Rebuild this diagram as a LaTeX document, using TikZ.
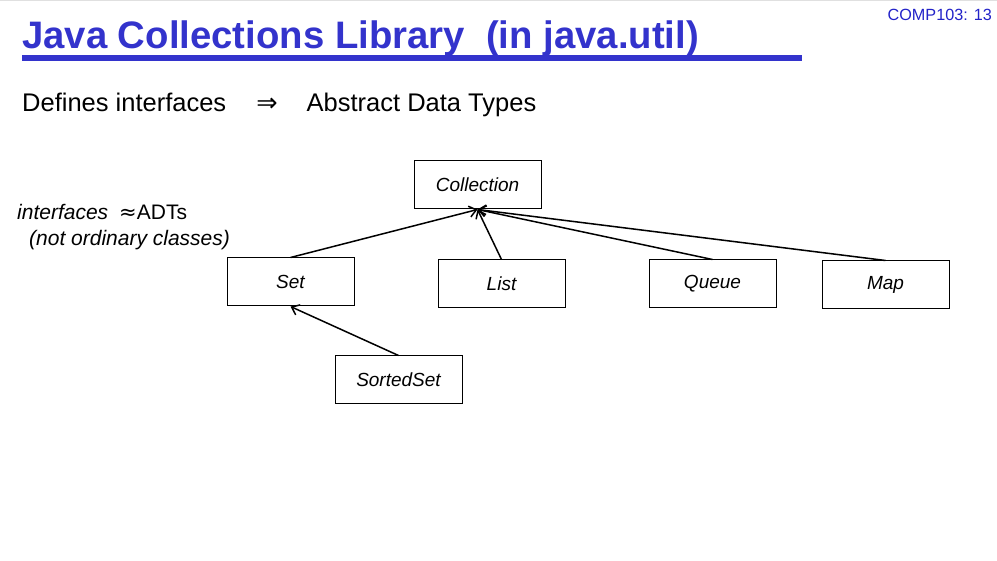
\documentclass[tikz,border=0pt]{standalone}
\usepackage{fontspec}
\setmainfont{Liberation Sans}
\newfontfamily\dejavu{DejaVu Sans}
\usepackage{xcolor}
\definecolor{ttlblue}{HTML}{3333CC}
\definecolor{pgblue}{HTML}{2222C8}
\usetikzlibrary{arrows.meta,positioning}

\begin{document}
\begin{tikzpicture}[x=1pt,y=-1pt,
  iface/.style={rectangle,draw=black,line width=1pt,minimum width=127pt,
                minimum height=48pt,inner sep=0pt,font=\fontsize{19}{22}\selectfont\itshape},
  txt/.style={inner sep=0pt,anchor=base west},
  isa/.style={-{Straight Barb[length=7pt,width=11pt]},line width=1.5pt}]
\useasboundingbox (0,0) rectangle (997,561);
\fill[black!12] (0,0) rectangle (997,1.5);
% slide heading
\node[txt,anchor=base east,text=pgblue,font=\fontsize{16.2}{18}\selectfont] (pg) at (992,21) {COMP103: 13};
\node[txt,text=ttlblue,font=\fontsize{38.3}{41}\selectfont\bfseries] (ttl) at (22,49)
  {Java Collections Library\ \ (in java.util)};
\fill[ttlblue] (22,55) rectangle (802,61);
\node[txt,font=\fontsize{25.5}{28}\selectfont] (def) at (22,112)
  {Defines interfaces\hspace{30pt}{\dejavu ⇒}\hspace{29pt}Abstract Data Types};
\node[txt,font=\fontsize{21}{24}\selectfont] (note1) at (17,220)
  {\textit{interfaces}\hspace{11pt}{\dejavu ≈}ADTs};
\node[txt,font=\fontsize{21}{24}\selectfont\itshape] (note2) at (29,246)
  {(not ordinary classes)};
% interface hierarchy
\node[iface] (coll) at (477.5,185) {Collection};
\node[iface] (set) at (290.5,282) {Set};
\node[iface] (list) at (501.5,284) {List};
\node[iface] (queue) at (712.5,284) {Queue};
\node[iface] (map) at (885.5,285) {Map};
\node[iface] (sset) at (398.5,380) {SortedSet};
\draw[isa] (set.north) -- (coll.south);
\draw[isa] (list.north) -- (coll.south);
\draw[isa] (queue.north) -- (coll.south);
\draw[isa] (map.north) -- (coll.south);
\draw[isa] (sset.north) -- (set.south);
\end{tikzpicture}
\end{document}
